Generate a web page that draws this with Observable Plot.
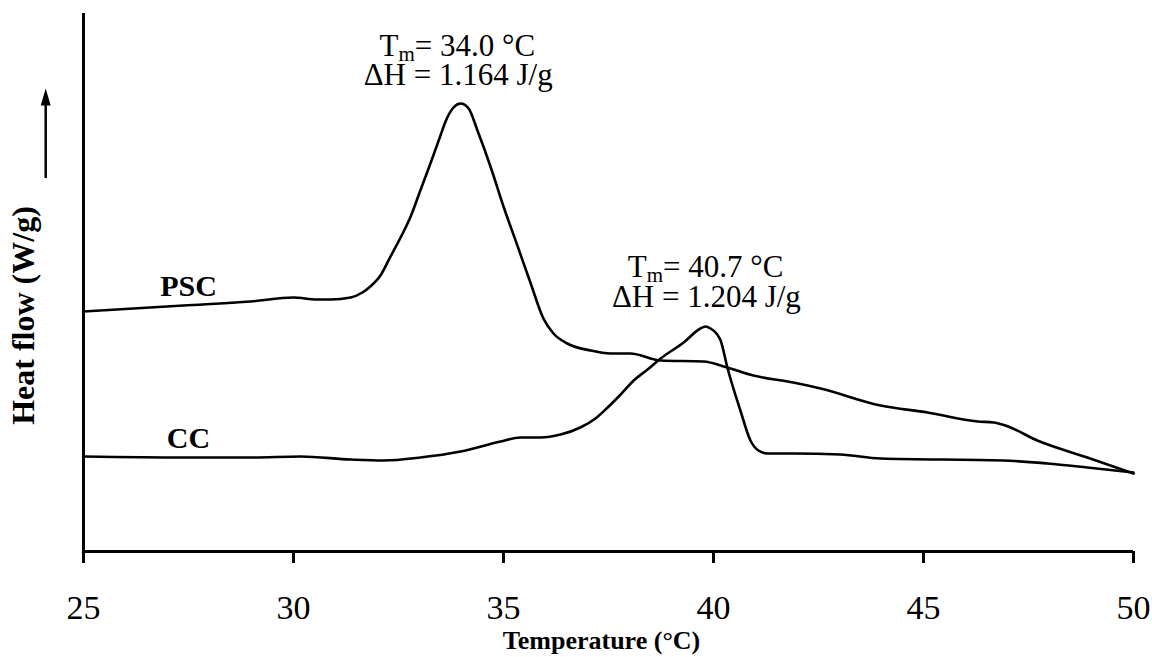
<!DOCTYPE html>
<html><head><meta charset="utf-8">
<script src="https://cdn.jsdelivr.net/npm/d3@7"></script>
<script src="https://cdn.jsdelivr.net/npm/@observablehq/plot@0.6"></script>
<style>body{margin:0;background:#fff} svg{display:block}</style>
</head><body><div id="chart"></div>
<script>
// Temperature (°C) and heat flow (arbitrary units, axis unlabelled)
const pscTemp = [25.00,27.38,28.98,30.00,30.55,30.88,31.36,31.64,31.83,32.07,32.31,32.55,32.79,33.02,33.26,33.50,33.62,33.81,33.98,34.17,34.38,34.69,35.00,35.33,35.64,35.95,36.19,36.52,37.07,37.55,38.02,38.74,39.76,40.33,40.95,41.90,42.55,43.98,45.10,46.29,46.67,46.95,47.71,48.90,50.00];
const pscFlow = [240,246,250,254,252,252,254,259,265,276,295,314,335,361,388,416,430,444,448,443,421,385,345,306,269,233,218,208,201,198,198,191,190,184,176,169,163,146,139,130,129,126,111,94,78];
const ccTemp = [25.00,27.38,28.98,30.17,31.36,32.14,33.02,33.98,34.93,35.40,35.88,36.36,36.83,37.19,37.48,37.79,38.10,38.43,38.74,39.29,39.69,39.81,39.93,40.07,40.17,40.33,40.64,40.88,41.07,41.29,41.90,43.02,43.98,46.90,47.95,48.90,50.00];
const ccFlow = [95,94,94,95,92,91,94,100,110,114,114,117,124,133,144,157,171,182,193,209,223,225,223,218,211,184,141,111,101,98,98,97,93,91,88,84,79];
const xTicks = [25, 30, 35, 40, 45, 50];
const curveLabels = [
  {x: 27.5, y: 265, text: "PSC"},
  {x: 27.5, y: 113, text: "CC"}
];
const peakNotes = [
  {x: 33.90, y: 505, text: "Tm= 34.0 °C"},
  {x: 33.92, y: 476, text: "ΔH = 1.164 J/g"},
  {x: 39.81, y: 284, text: "Tm= 40.7 °C"},
  {x: 39.83, y: 254, text: "ΔH = 1.204 J/g"}
];
const upArrow = [{x: 24.1, y1: 373, y2: 453}];

const psc = pscTemp.map((t, i) => ({t, hf: pscFlow[i]}));
const cc = ccTemp.map((t, i) => ({t, hf: ccFlow[i]}));

const narrowTriangle = {
  draw(ctx) { ctx.moveTo(0, -10); ctx.lineTo(5, 7); ctx.lineTo(-5, 7); ctx.closePath(); }
};

const chart = Plot.plot({
  width: 1152, height: 657,
  marginLeft: 83, marginRight: 19, marginTop: 13, marginBottom: 106,
  style: {fontFamily: "'Liberation Serif', 'Times New Roman', serif", background: "white", color: "black", overflow: "visible"},
  x: {domain: [25, 50]},
  y: {domain: [0, 538], axis: null},
  marks: [
    Plot.line(psc, {x: "t", y: "hf", curve: "monotone-x", stroke: "black", strokeWidth: 2.6}),
    Plot.line(cc, {x: "t", y: "hf", curve: "monotone-x", stroke: "black", strokeWidth: 2.6}),
    Plot.ruleX([25], {stroke: "black", strokeWidth: 3}),
    Plot.ruleY([0], {stroke: "black", strokeWidth: 3}),
    Plot.axisX({ticks: xTicks, tickSize: 12, tickPadding: 31, fontSize: 34, strokeWidth: 3, label: null, tickFormat: d => String(d)}),
    Plot.text(["Temperature (°C)"], {frameAnchor: "bottom", dx: -7, dy: 97, fontSize: 26, fontWeight: "bold"}),
    Plot.text(["Heat flow (W/g)"], {frameAnchor: "left", textAnchor: "middle", rotate: -90, dx: -60, dy: 33, fontSize: 32, fontWeight: "bold"}),
    Plot.ruleX(upArrow, {x: "x", y1: "y1", y2: "y2", stroke: "black", strokeWidth: 2.5}),
    Plot.dot(upArrow, {x: "x", y: "y2", symbol: narrowTriangle, fill: "black", stroke: "none"}),
    Plot.text(curveLabels, {x: "x", y: "y", text: "text", fontSize: 30, fontWeight: "bold"}),
    Plot.text(peakNotes, {x: "x", y: "y", text: "text", fontSize: 31})
  ]
});
document.getElementById("chart").appendChild(chart);

// Subscript "m" in Tm
chart.querySelectorAll("text").forEach(el => {
  const s = el.textContent;
  if (s.startsWith("Tm=") && el.children.length === 0) {
    el.textContent = "";
    const ns = "http://www.w3.org/2000/svg";
    const a = document.createElementNS(ns, "tspan"); a.textContent = "T";
    const b = document.createElementNS(ns, "tspan"); b.textContent = "m"; b.setAttribute("dy", "5"); b.setAttribute("font-size", "21");
    const c = document.createElementNS(ns, "tspan"); c.textContent = s.slice(2); c.setAttribute("dy", "-5");
    el.append(a, b, c);
  }
});
</script>
</body></html>
